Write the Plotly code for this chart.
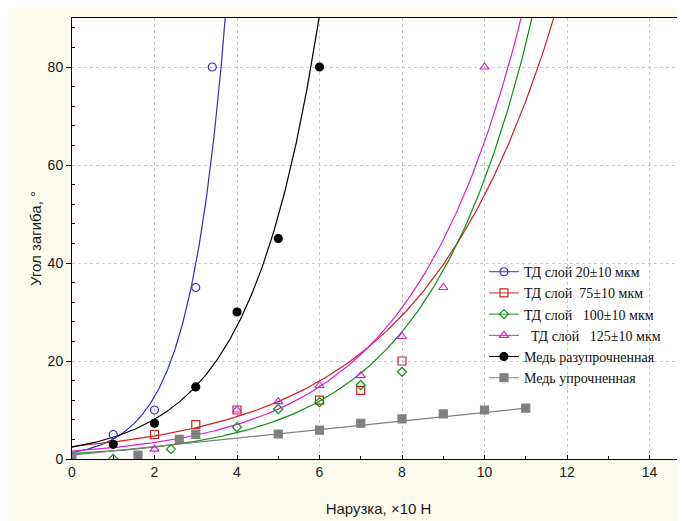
import numpy as np
import plotly.graph_objects as go

# ---- data ----
blue_x = [1, 2, 3, 3.4]
blue_y = [5, 10, 35, 80]

black_x = [1, 2, 3, 4, 5, 6]
black_y = [3, 7.3, 14.7, 30, 45, 80]

red_x = [2, 3, 4, 6, 7, 8]
red_y = [5, 7, 10, 12, 14, 20]

green_x = [1, 2.4, 4, 5, 6, 7, 8]
green_y = [0, 2, 6.5, 10.2, 11.6, 15.1, 17.8]

magenta_x = [2, 4, 5, 6, 7, 8, 9, 10]
magenta_y = [2, 10, 11.7, 15, 17, 25, 35, 80]

grey_x = [0, 1.6, 2.6, 3, 5, 6, 7, 8, 9, 10, 11]
grey_y = [0.4, 0.8, 4, 5, 5.1, 5.9, 7.3, 8.2, 9.2, 10, 10.4]

names = [
    "ТД слой 20±10 мкм",
    "ТД слой\u00a0 75±10 мкм",
    "ТД слой\u00a0\u00a0 100±10 мкм",
    "\u00a0\u00a0ТД слой\u00a0\u00a0 125±10 мкм",
    "Медь разупрочненная",
    "Медь упрочненная",
]

# fitted curve parameters, y = a*exp(b*x)
fit_blue = (1.3, 1.14)
fit_black = (2.42, 0.604)
fit_red = (2.55, 0.305)
fit_green = (1.11, 0.394)
fit_magenta = (1.6, 0.37)
# linear fit for the hardened copper: intercept, slope, x-extent
fit_grey = (0.8, 0.87, 0.0, 11.0)

c_blue = "#3030C8"
c_red = "#D02020"
c_green = "#109010"
c_mag = "#D820D8"
c_black = "#000000"
c_grey = "#808080"

fig = go.Figure()


def exp_curve(p, color):
    a, b = p
    xmax = np.log(100.0 / a) / b
    xs = np.linspace(0, xmax, 300)
    ys = a * np.exp(b * xs)
    fig.add_trace(go.Scatter(x=xs, y=ys, mode="lines",
                             line=dict(color=color, width=1.2),
                             showlegend=False, hoverinfo="skip"))


exp_curve(fit_blue, c_blue)
exp_curve(fit_red, c_red)
exp_curve(fit_green, c_green)
exp_curve(fit_magenta, c_mag)
exp_curve(fit_black, c_black)
gi, gs, gx0, gx1 = fit_grey
gxs = np.linspace(gx0, gx1, 50)
fig.add_trace(go.Scatter(x=gxs, y=gi + gs * gxs, mode="lines",
                         line=dict(color=c_grey, width=1.2),
                         showlegend=False, hoverinfo="skip"))

series = [
    (blue_x, blue_y, c_blue, "circle-open", 8, names[0]),
    (red_x, red_y, c_red, "square-open", 8, names[1]),
    (green_x, green_y, c_green, "diamond-open", 7, names[2]),
    (magenta_x, magenta_y, c_mag, "triangle-up-open", 8, names[3]),
    (black_x, black_y, c_black, "circle", 8, names[4]),
    (grey_x, grey_y, c_grey, "square", 8, names[5]),
]

for xs, ys, col, sym, sz, nm in series:
    fig.add_trace(go.Scatter(x=xs, y=ys, mode="markers",
                             marker=dict(color=col, symbol=sym, size=sz,
                                         line=dict(color=col, width=1.2)),
                             showlegend=False))

for xs, ys, col, sym, sz, nm in series:
    fig.add_trace(go.Scatter(x=[None], y=[None], mode="lines+markers", name=nm,
                             marker=dict(color=col, symbol=sym, size=sz,
                                         line=dict(color=col, width=1.2)),
                             line=dict(color=col, width=1)))

# the page has an 8px body margin, so the figure is offset by 8px
fig.update_layout(
    width=677, height=513,
    margin=dict(l=64, r=0, t=10, b=62),
    paper_bgcolor="#FDFAEE",
    plot_bgcolor="#FFFFFF",
    font=dict(family="Arial, Liberation Sans, sans-serif", size=14, color="#1a1a1a"),
    legend=dict(x=0.672, y=0.46, xanchor="left", yanchor="top",
                bgcolor="rgba(0,0,0,0)", borderwidth=0,
                font=dict(family="Liberation Serif, Times New Roman, serif", size=14, color="#111"),
                tracegroupgap=0, itemwidth=30),
    showlegend=True,
)

fig.update_xaxes(
    range=[0, 14.86], tickmode="array", tickvals=[0, 2, 4, 6, 8, 10, 12, 14],
    ticks="inside", ticklen=4, tickcolor="#000",
    minor=dict(tickvals=[1, 3, 5, 7, 9, 11, 13], ticks="inside", ticklen=3, tickcolor="#000", showgrid=False),
    showline=True, linecolor="#000", linewidth=1, mirror=True,
    showgrid=True, gridcolor="#C8C8C8", griddash="dot", gridwidth=1,
    zeroline=False, automargin=False,
    title=dict(text="Нарузка, ×10 Н", standoff=24, font=dict(size=15)),
)
fig.update_yaxes(
    range=[0, 90], tickmode="array", tickvals=[0, 20, 40, 60, 80],
    ticks="outside", ticklen=5, tickcolor="#000",
    minor=dict(tickvals=[4, 8, 12, 16, 24, 28, 32, 36, 44, 48, 52, 56, 64, 68, 72, 76, 84, 88],
               ticks="inside", ticklen=3, tickcolor="#000", showgrid=False),
    showline=True, linecolor="#000", linewidth=1, mirror=True,
    showgrid=True, gridcolor="#C8C8C8", griddash="dot", gridwidth=1,
    zeroline=False, automargin=False,
    title=dict(text="Угол загиба, °", standoff=2, font=dict(size=15)),
)

fig.write_html("out.html")
